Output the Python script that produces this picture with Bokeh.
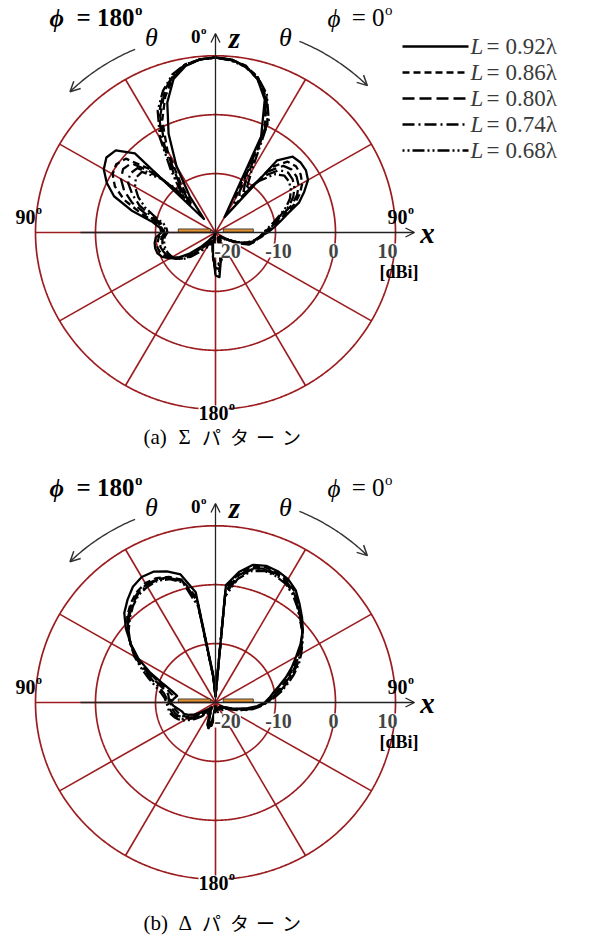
import numpy as np
from bokeh.plotting import figure
from bokeh.layouts import column
from bokeh.models import Range1d, Arrow, OpenHead, Label
from bokeh.embed import file_html
from bokeh.resources import INLINE

# ---------------- data (gain in dBi vs. theta, -180..180 step 5; negative = phi=180 side)
angle_deg = list(range(-180, 181, 5))

sigma_092 = [-12.7, -16, -19.5, -20, -20, -19.5, -19, -19, -18, -16.5, -14.5, -12.7, -11.2, -10.2, -9.7, -9.6, -9.7, -10, -11,
             -10.7, -9.2, -5.5, -2, 0, 1.5, 2.2, 1.7, -1, -17, -12.5, -7, -1.5, 3.5, 7, 8.7, 9.5,
             9.7,
             9.5, 8.7, 7, 4, -2, -17, -15, -4, -1.8, -1.5, -1.6, -2.2, -3.7, -5.2, -7.5, -9, -10.2, -11.3,
             -12.5, -13.2, -13.5, -14, -15.5, -17.5, -18.5, -19, -19, -19, -19, -19, -19, -19, -18, -15, -12.4, -12.7]
sigma_086 = [-13.5, -15.5, -18.5, -19.5, -19.5, -19, -18.5, -18, -17, -15.5, -14, -12.5, -11.5, -10.7, -10.2, -10, -10.2, -10.5, -11.2,
             -11, -9.7, -7, -3.8, -1.5, -0.2, 0.2, -0.5, -5, -14, -10, -4, 1, 4.5, 7.3, 8.8, 9.5,
             9.7,
             9.5, 8.8, 7.3, 4.5, -0.5, -14, -14, -5.5, -3, -2.5, -2.7, -3.3, -4.5, -6, -8, -9.5, -10.5, -11.5,
             -12.2, -13, -13.5, -14.5, -16, -17.5, -18.5, -19, -19, -19, -19, -19, -18.5, -18, -17, -15, -13.2, -13.5]
sigma_080 = [-14, -15.5, -18, -19, -19, -18.5, -18, -17.5, -16.5, -15, -13.5, -12.2, -11.4, -11, -10.7, -10.5, -10.7, -11, -11.5,
             -11.2, -10.2, -8, -5.2, -3.2, -1.8, -1.2, -1.7, -6, -13, -9, -3, 1.8, 5, 7.5, 8.9, 9.5,
             9.7,
             9.4, 8.6, 7, 4.3, -0.2, -12, -13, -6.5, -4, -3.4, -3.5, -4, -5, -6.5, -8.5, -9.8, -10.8, -11.7,
             -12.5, -13, -13.7, -14.7, -16, -17.5, -18.5, -18.8, -19, -19, -19, -18.8, -18.2, -17.5, -16.5, -15, -13.8, -14]
sigma_074 = [-14.5, -15.5, -17.5, -18.5, -18.5, -18, -17.5, -17, -16, -14.5, -13.2, -12.2, -11.5, -11.2, -11, -10.9, -11, -11.2, -11.7,
             -11.5, -10.7, -8.8, -6.5, -4.7, -3.2, -2.6, -3, -6.5, -12, -8, -2.2, 2.3, 5.3, 7.6, 9, 9.5,
             9.7,
             9.4, 8.7, 7.2, 4.8, 0.5, -10, -12, -7.5, -5, -4.2, -4.3, -4.8, -5.7, -7, -8.8, -10, -11, -11.8,
             -12.5, -13, -13.8, -15, -16.2, -17.5, -18.2, -18.5, -18.7, -18.7, -18.7, -18.5, -18, -17, -16, -15, -14.2, -14.5]
sigma_068 = [-15, -15.5, -17, -18, -18, -17.5, -17, -16.5, -15.5, -14.2, -13, -12.2, -11.7, -11.4, -11.2, -11.2, -11.3, -11.5, -12,
             -11.8, -11.2, -9.5, -7.5, -5.8, -4.5, -3.8, -4, -7, -11, -7, -1.5, 2.8, 5.6, 7.8, 9, 9.5,
             9.7,
             9.3, 8.6, 7.3, 5, 1, -8, -11, -8.5, -6, -5, -5, -5.5, -6.3, -7.5, -9, -10.2, -11.2, -12,
             -12.5, -13.2, -14, -15, -16.2, -17.2, -18, -18.2, -18.5, -18.5, -18.5, -18.2, -17.5, -16.5, -15.5, -15, -14.7, -15]

delta_092 = [-19.5, -19, -17, -15.5, -16, -17.5, -18.5, -19, -19, -18.5, -18, -17, -16, -15, -14.4, -14.2, -13.7, -13, -12.5,
             -13, -13.5, -12.5, -10.7, -8, -5.2, -2.8, -0.5, 1.5, 2.8, 4, 4.6, 4.5, 3.7, 2.5, -1, -15,
             -19,
             0, 2.5, 4.2, 4.7, 4.6, 4.2, 3.3, 1.8, 0.4, -1, -2.7, -4.5, -6, -7.5, -9, -10.2, -11, -11.8,
             -13, -14.5, -16, -17, -18, -18.5, -19, -19, -19, -19, -19, -19, -19, -19, -19, -19, -19, -19.5]
delta_086 = [-19.5, -18.5, -16.5, -15.5, -16.5, -18, -18.5, -18.5, -18.5, -18, -17.2, -16.2, -15.2, -14.4, -13.8, -13.5, -13.2, -12.8, -12.4,
             -12.6, -12.7, -11.7, -10, -7.6, -5, -2.8, -0.8, 0.8, 2, 2.9, 3.4, 3.3, 2.7, 1.6, -2, -15.5,
             -19,
             -0.5, 2.2, 3.9, 4.4, 4.3, 3.9, 3, 1.6, 0.2, -1.1, -2.6, -4.2, -5.6, -7, -8.4, -9.7, -10.8, -11.7,
             -12.8, -14.2, -15.7, -16.8, -17.8, -18.4, -18.8, -18.8, -18.8, -18.8, -18.8, -18.8, -18.8, -18.8, -18.8, -18.8, -18.8, -19.5]
delta_080 = [-19.2, -18, -16.2, -15.7, -16.7, -18, -18.2, -18.2, -18, -17.5, -16.7, -15.7, -14.8, -14, -13.4, -13, -12.8, -12.5, -12.2,
             -12.2, -12, -11, -9.4, -7.2, -4.8, -2.7, -0.9, 0.6, 1.8, 2.7, 3.1, 3.1, 2.6, 1.4, -2.5, -15.5,
             -19,
             -1, 1.9, 3.6, 4.2, 4.1, 3.7, 2.8, 1.4, 0.1, -1.1, -2.5, -4, -5.3, -6.7, -8.1, -9.4, -10.6, -11.6,
             -12.7, -14, -15.4, -16.6, -17.6, -18.2, -18.7, -18.7, -18.7, -18.7, -18.7, -18.7, -18.7, -18.7, -18.7, -18.7, -18.7, -19.2]
delta_074 = [-19, -17.5, -16, -16, -17, -17.8, -18, -18, -17.7, -17, -16.2, -15.2, -14.3, -13.6, -13, -12.6, -12.4, -12.2, -12,
             -11.8, -11.3, -10.3, -8.8, -6.8, -4.6, -2.7, -1, 0.4, 1.6, 2.5, 2.9, 3, 2.5, 1.3, -3, -15.5,
             -18.8,
             -1.5, 1.6, 3.4, 4, 3.9, 3.5, 2.6, 1.3, 0, -1.1, -2.4, -3.7, -5, -6.4, -7.8, -9.1, -10.4, -11.5,
             -12.6, -13.8, -15.2, -16.4, -17.4, -18, -18.5, -18.5, -18.5, -18.5, -18.5, -18.5, -18.5, -18.5, -18.5, -18.5, -18.5, -19]
delta_068 = [-18.8, -17, -16, -16.2, -17.2, -17.6, -17.8, -17.7, -17.4, -16.6, -15.7, -14.8, -13.9, -13.2, -12.7, -12.3, -12.1, -12, -11.8,
             -11.5, -10.8, -9.7, -8.2, -6.4, -4.4, -2.7, -1.1, 0.2, 1.4, 2.3, 2.7, 2.8, 2.3, 1.1, -3.5, -15.5,
             -18.5,
             -2, 1.3, 3.1, 3.8, 3.7, 3.3, 2.4, 1.2, -0.1, -1.1, -2.3, -3.5, -4.7, -6.1, -7.5, -8.8, -10.1, -11.4,
             -12.5, -13.6, -15, -16.2, -17.2, -17.8, -18.3, -18.3, -18.3, -18.3, -18.3, -18.3, -18.3, -18.3, -18.3, -18.3, -18.3, -18.8]

L_labels = ["0.92", "0.86", "0.80", "0.74", "0.68"]
ring_dbi = [-10, 0, 10]
scale_dbi = [-20, -10, 0, 10]
scale_text = ["-20", "-10", "0", "10"]
spoke_deg = [-150, -120, -90, -60, -30, 30, 60, 120, 150, 180]
floor_dbi = -20
top_dbi = 10

# ---------------- styles / layout
DASHES = ["solid", "7 4", "12 5", "12 4 2 4", "2 3 2 3 12 3"]
RED = "#9B1C1F"
SERIF = "Liberation Serif"
SX, SY = 6.0, 5.89          # px per dB (x, y)
CXP, CYP = 215, 232         # polar centre in page px (top panel)
W = 592


def to_xy(dbi, deg):
    r = np.clip(np.asarray(dbi, float) - floor_dbi, 0, None)
    a = np.radians(np.asarray(deg, float))
    return r * np.sin(a), r * np.cos(a)


def U(xp, yp):
    return (xp - CXP) / SX, (CYP - yp) / SY


def lbl(p, xp, yp, text, size, style="bold", align="center", font=SERIF, color="black", bg=None):
    x, y = U(xp, yp)
    p.add_layout(Label(x=x, y=y, text=text, text_font=font, text_font_size=f"{size}px",
                       text_font_style=style, text_align=align, text_baseline="middle",
                       text_color=color, background_fill_color=bg))


def deg_lbl(p, xp, yp, main, size, style="bold", bg=None):
    lbl(p, xp, yp, main, size, style, align="right", bg=bg)
    lbl(p, xp + 0.5, yp - size * 0.32, "o", round(size * 0.6), style, align="left")


def panel(h, cy, series, caption_sym, caption_tag, caption_y, legend=False):
    p = figure(width=W, height=h, output_backend="svg", toolbar_location=None,
               x_axis_location=None, y_axis_location=None, min_border=0,
               x_range=Range1d((0 - CXP) / SX, (W - CXP) / SX),
               y_range=Range1d(-(h - cy) / SY, cy / SY))
    p.grid.visible = False
    p.outline_line_color = None
    p.background_fill_color = "white"
    p.border_fill_color = "white"

    full = np.linspace(-180, 180, 721)
    for rd in ring_dbi:
        x, y = to_xy(np.full_like(full, rd), full)
        p.line(x, y, line_color=RED, line_width=1.7)
    sx, sy = to_xy([top_dbi] * len(spoke_deg), spoke_deg)
    p.segment(x0=[0] * len(spoke_deg), y0=[0] * len(spoke_deg), x1=sx, y1=sy,
              line_color=RED, line_width=1.6)

    # axes
    x0, _ = U(80, CYP)
    xe, _ = U(414, CYP)
    _, ze = U(CXP, 33)
    p.add_layout(Arrow(x_start=x0, y_start=0, x_end=xe, y_end=0, line_width=1.3, line_color="#222222",
                       end=OpenHead(size=9, line_width=1.3, line_color="#222222")))
    p.add_layout(Arrow(x_start=0, y_start=0, x_end=0, y_end=ze, line_width=1.3, line_color="#222222",
                       end=OpenHead(size=9, line_width=1.3, line_color="#222222")))

    # patterns
    for vals, dash in zip(series, DASHES):
        x, y = to_xy(vals, angle_deg)
        p.line(x, y, line_color="black", line_width=2.3, line_dash=dash, line_join="round")

    # antenna elements on x axis
    p.quad(left=[-6.2, 1.3], right=[-0.8, 6.3], bottom=[0.05, 0.05], top=[0.6, 0.6],
           fill_color="#E3922F", line_color="#222222", line_width=0.8)

    # theta arcs
    for a0, a1, rr in [(-23, -45, 34.3), (23, 45, 35.8)]:
        aa = np.radians(np.linspace(a0, a1, 40))
        ax, ay = rr * np.sin(aa), rr * np.cos(aa) * 0.985
        p.line(ax[:-1], ay[:-1], line_color="#333333", line_width=1.4)
        p.add_layout(Arrow(x_start=ax[-3], y_start=ay[-3], x_end=ax[-1], y_end=ay[-1],
                           line_width=1.4, line_color="#333333",
                           end=OpenHead(size=10, line_width=1.5, line_color="#333333")))

    # texts
    lbl(p, 49, 18, "ϕ", 25, "bold italic", align="left")
    deg_lbl(p, 134, 17, "= 180", 25)
    lbl(p, 327, 18, "ϕ", 25, "italic", align="left")
    deg_lbl(p, 384, 17, "= 0", 25, "normal")
    lbl(p, 151, 37, "θ", 26, "italic")
    lbl(p, 285, 37, "θ", 26, "italic")
    deg_lbl(p, 200, 36, "0", 19)
    lbl(p, 234, 37, "z", 29, "bold italic")
    lbl(p, 427, 232, "x", 29, "bold italic")
    deg_lbl(p, 35, 216, "90", 20)
    deg_lbl(p, 407, 216, "90", 20)
    deg_lbl(p, 228, 412, "180", 20, bg="white")

    _, ty = U(CXP, 250)
    for v, t, off in zip(scale_dbi, scale_text, [12, 3, -2, -8]):
        p.add_layout(Label(x=v - floor_dbi, y=ty, x_offset=off, text=t, text_font=SERIF,
                           text_font_size="20px", text_font_style="bold", text_align="center",
                           text_baseline="middle", background_fill_color="white"))
    lbl(p, 379, 271, "[dBi]", 18, align="left")

    # caption
    lbl(p, 143, caption_y, f"({caption_tag})", 21, "normal", align="left")
    lbl(p, 178, caption_y, caption_sym, 21, "normal", align="left")
    for ch, xc in zip("パターン", [211, 239, 265, 291]):
        lbl(p, xc, caption_y, ch, 19, "normal", font="Noto Sans CJK JP")

    if legend:
        for i, (lab, dash) in enumerate(zip(L_labels, DASHES)):
            yp = 46 + 26 * i
            xa, ya = U(402, yp)
            xb, _ = U(468, yp)
            p.line([xa, xb], [ya, ya], line_color="black", line_width=2.4, line_dash=dash)
            lbl(p, 470, yp, "L", 23, "italic", align="left", color="#3a3a3a")
            lbl(p, 486, yp, "=", 23, "normal", align="left", color="#3a3a3a")
            lbl(p, 505, yp, f"{lab}λ", 23, "normal", align="left", color="#3a3a3a")
    return p


top = panel(469, 232, [sigma_092, sigma_086, sigma_080, sigma_074, sigma_068], "Σ", "a", 436, legend=True)
bottom = panel(469, 233, [delta_092, delta_086, delta_080, delta_074, delta_068], "Δ", "b", 452)

layout = column(top, bottom, spacing=0)
open("out.html", "w").write(file_html(layout, INLINE))
